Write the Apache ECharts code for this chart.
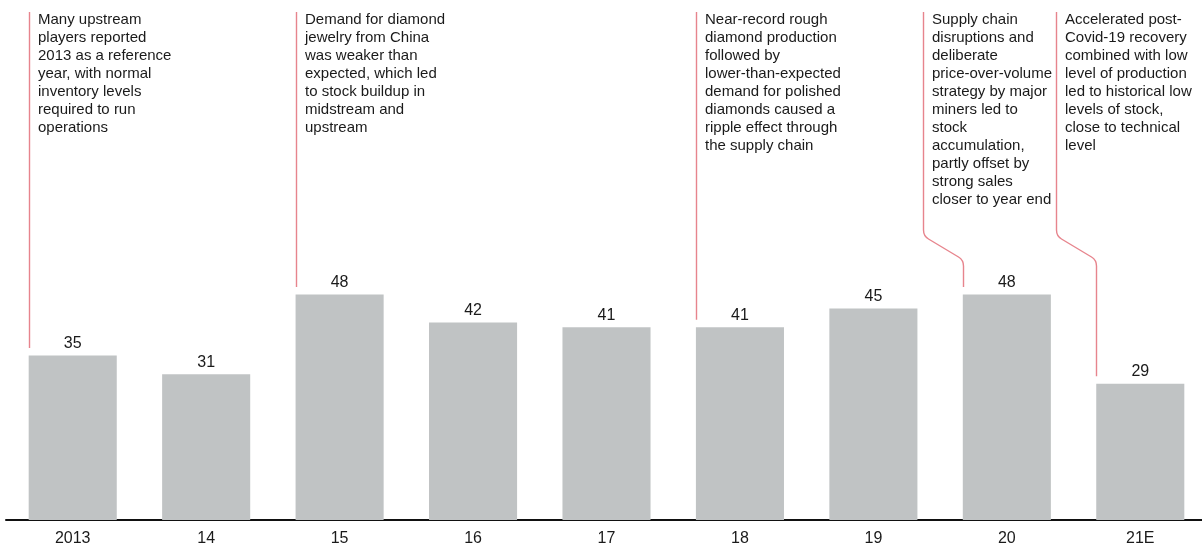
<!DOCTYPE html>
<html>
<head>
<meta charset="utf-8">
<title>Diamond stock levels</title>
<script src="https://cdn.jsdelivr.net/npm/echarts@6/dist/echarts.min.js"></script>
<style>
  html, body { margin: 0; padding: 0; background: #fff; overflow: hidden; }
  #chart { width: 1202px; height: 544px; }
</style>
</head>
<body>
<div id="chart"></div>
<script>
// Years and stock level per year
const years = ['2013', '14', '15', '16', '17', '18', '19', '20', '21E'];
const stock = [35, 31, 48, 42, 41, 41, 45, 48, 29];

// Annotated years and their comments
const noteYears = ['2013', '15', '18', '20', '21E'];
const noteTexts = [
  'Many upstream\nplayers reported\n2013 as a reference\nyear, with normal\ninventory levels\nrequired to run\noperations',
  'Demand for diamond\njewelry from China\nwas weaker than\nexpected, which led\nto stock buildup in\nmidstream and\nupstream',
  'Near-record rough\ndiamond production\nfollowed by\nlower-than-expected\ndemand for polished\ndiamonds caused a\nripple effect through\nthe supply chain',
  'Supply chain\ndisruptions and\ndeliberate\nprice-over-volume\nstrategy by major\nminers led to\nstock\naccumulation,\npartly offset by\nstrong sales\ncloser to year end',
  'Accelerated post-\nCovid-19 recovery\ncombined with low\nlevel of production\nled to historical low\nlevels of stock,\nclose to technical\nlevel'
];

// Leader lines that step left to make room for the text column
const BENT_NOTES = new Set(['20', '21E']);
const BAR_RATIO = 0.66;
const FONT = '"Liberation Sans", Arial, Helvetica, sans-serif';
const LEADER_COLOR = '#e7848d';

const noteData = noteYears.map((y, i) => {
  const idx = years.indexOf(y);
  return [idx, stock[idx], i];
});

function renderNote(params, api) {
  const idx = api.value(0);
  const v = api.value(1);
  const n = api.value(2);
  const top = api.coord([idx, v]);
  const bw = api.size([1, 0])[0] * BAR_RATIO;
  const xe = Math.round(top[0] - bw / 2) + 0.5;
  const ye = top[1] - 7.5;
  const bent = BENT_NOTES.has(noteYears[n]);
  const xs = bent ? xe - 40 : xe;
  const yTop = 12;
  let d;
  if (bent) {
    d = `M ${xs} ${yTop} L ${xs} 230 Q ${xs} 236 ${xs + 5} 239 ` +
        `L ${xe - 5} 257 Q ${xe} 260 ${xe} 266 L ${xe} ${ye}`;
  } else {
    d = `M ${xs} ${yTop} L ${xs} ${ye}`;
  }
  return {
    type: 'group',
    children: [
      {
        type: 'path',
        shape: { pathData: d },
        style: { stroke: LEADER_COLOR, lineWidth: 1.4, fill: null }
      },
      {
        type: 'text',
        x: xs + 8.5,
        y: 11,
        style: {
          text: noteTexts[n],
          font: '15px ' + FONT,
          lineHeight: 18,
          fill: '#1a1a1a',
          align: 'left',
          verticalAlign: 'top'
        }
      }
    ]
  };
}

const chart = echarts.init(document.getElementById('chart'), null, { renderer: 'canvas' });
chart.setOption({
  animation: false,
  backgroundColor: '#ffffff',
  grid: {
    left: 6, width: 1201, top: 238, bottom: 24,
    containLabel: false,
    outerBoundsMode: 'none'
  },
  xAxis: {
    type: 'category',
    data: years,
    axisLine: { show: true, lineStyle: { color: '#111111', width: 2 } },
    axisTick: { show: false },
    axisLabel: { color: '#1a1a1a', fontSize: 16, fontFamily: FONT, margin: 11 },
    splitLine: { show: false }
  },
  yAxis: {
    type: 'value',
    min: 0,
    max: 60,
    show: false,
    splitLine: { show: false }
  },
  series: [
    {
      type: 'bar',
      data: stock,
      barWidth: (BAR_RATIO * 100) + '%',
      itemStyle: { color: '#c0c3c4' },
      label: {
        show: true,
        position: 'top',
        distance: 4,
        color: '#1a1a1a',
        fontSize: 16,
        fontFamily: FONT
      },
      silent: true
    },
    {
      type: 'custom',
      coordinateSystem: 'cartesian2d',
      data: noteData,
      renderItem: renderNote,
      clip: false,
      silent: true,
      z: 5
    }
  ]
});
</script>
</body>
</html>
